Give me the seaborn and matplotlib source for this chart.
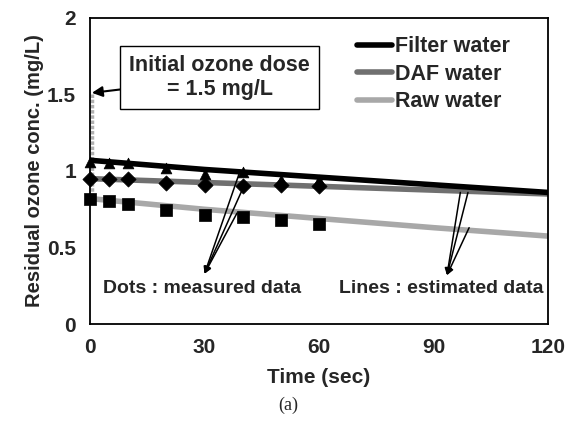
import matplotlib
matplotlib.use('Agg')
import matplotlib.pyplot as plt
import pandas as pd
import seaborn as sns

# measured data (dots)
t_meas = [0, 5, 10, 20, 30, 40, 50, 60]
filter_meas = [1.06, 1.055, 1.05, 1.02, 0.98, 0.995, 0.94, 0.94]
daf_meas = [0.95, 0.945, 0.945, 0.92, 0.91, 0.90, 0.91, 0.90]
raw_meas = [0.82, 0.805, 0.785, 0.745, 0.715, 0.70, 0.68, 0.655]

# estimated data (lines)
t_est = [0, 30, 60, 90, 120]
filter_est = [1.07, 1.01, 0.96, 0.91, 0.86]
daf_est = [0.95, 0.925, 0.90, 0.875, 0.85]
raw_est = [0.82, 0.75, 0.69, 0.63, 0.575]

series = ['Filter water', 'DAF water', 'Raw water']
colors = {'Filter water': '#000000', 'DAF water': '#707070', 'Raw water': '#a8a8a8'}
markers = {'Filter water': '^', 'DAF water': 'D', 'Raw water': 's'}

df_meas = pd.DataFrame({
    'time': t_meas * 3,
    'conc': filter_meas + daf_meas + raw_meas,
    'water': [s for s in series for _ in t_meas],
})
df_est = pd.DataFrame({
    'time': t_est * 3,
    'conc': filter_est + daf_est + raw_est,
    'water': [s for s in series for _ in t_est],
})

sns.set_style('white')
plt.rcParams['font.family'] = ['Liberation Sans', 'DejaVu Sans']
plt.rcParams['font.weight'] = 'bold'

fig = plt.figure(figsize=(5.77, 4.34), dpi=100)
ax = fig.add_axes([0.156, 0.253, 0.794, 0.706])

# initial dose drop at t=0
ax.plot([0.4, 0.4], [1.5, 0.82], color='#b0b0b0', lw=2.5, ls=(0, (1, 0.5)),
        zorder=1, clip_on=False)

# lines drawn raw first so filter sits on top
for s in ['Raw water', 'DAF water', 'Filter water']:
    sns.lineplot(data=df_est[df_est['water'] == s], x='time', y='conc',
                 color=colors[s], lw=4, ax=ax, label=s, zorder=2)

for s in series:
    sub = df_meas[df_meas['water'] == s]
    sns.scatterplot(data=sub, x='time', y='conc', marker=markers[s],
                    color='black', s=60 if s != 'Raw water' else 75,
                    edgecolor='black', linewidth=0.5, ax=ax, zorder=3,
                    clip_on=False)

ax.set_xlim(0, 120)
ax.set_ylim(0, 2)
ax.set_xticks([0, 30, 60, 90, 120])
ax.set_yticks([0, 0.5, 1, 1.5, 2])
ax.set_yticklabels(['0', '0.5', '1', '1.5', '2'])
ax.tick_params(direction='in', length=3, labelsize=15, pad=10)
for lab in ax.get_xticklabels() + ax.get_yticklabels():
    lab.set_fontweight('bold')
for sp in ax.spines.values():
    sp.set_color('black')
    sp.set_linewidth(1.3)

ax.set_xlabel('Time (sec)', fontsize=15, fontweight='bold', labelpad=8)
ax.set_ylabel('Residual ozone conc. (mg/L)', fontsize=14.5, fontweight='bold', labelpad=2)

handles, labels = ax.get_legend_handles_labels()
order = [labels.index(s) for s in series]
leg = ax.legend([handles[i] for i in order], series, loc='upper right',
                frameon=False, fontsize=15.5, handlelength=1.6, handletextpad=0.15,
                labelspacing=0.3, borderaxespad=0.1, bbox_to_anchor=(0.94, 0.975))
for txt in leg.get_texts():
    txt.set_fontweight('bold')

ax.annotate('Initial ozone dose\n= 1.5 mg/L', xy=(0.5, 1.51), xytext=(34, 1.61),
            ha='center', va='center', fontsize=15.5, fontweight='bold',
            bbox=dict(boxstyle='square,pad=0.42', fc='white', ec='black', lw=1),
            arrowprops=dict(arrowstyle='-|>', color='black', lw=1.5,
                            shrinkA=0, shrinkB=0))

head_dots = (30, 0.33)
for tail in [(39.3, 1.0), (40.1, 0.89), (38.5, 0.725)]:
    ax.annotate('', xy=head_dots, xytext=tail,
                arrowprops=dict(arrowstyle='-|>', color='black', lw=1.1,
                                shrinkA=0, shrinkB=0))
ax.text(29.3, 0.235, 'Dots : measured data', ha='center', va='center',
        fontsize=14, fontweight='bold')

head_lines = (93.5, 0.32)
for tail in [(97, 0.86), (99, 0.86), (99.3, 0.63)]:
    ax.annotate('', xy=head_lines, xytext=tail,
                arrowprops=dict(arrowstyle='-|>', color='black', lw=1.1,
                                shrinkA=0, shrinkB=0))
ax.text(92, 0.235, 'Lines : estimated data', ha='center', va='center',
        fontsize=14, fontweight='bold')

fig.text(0.5, 0.065, '(a)', ha='center', va='center', fontsize=13,
         fontweight='normal', family='Liberation Serif')

fig.savefig('out.png', dpi=100)
